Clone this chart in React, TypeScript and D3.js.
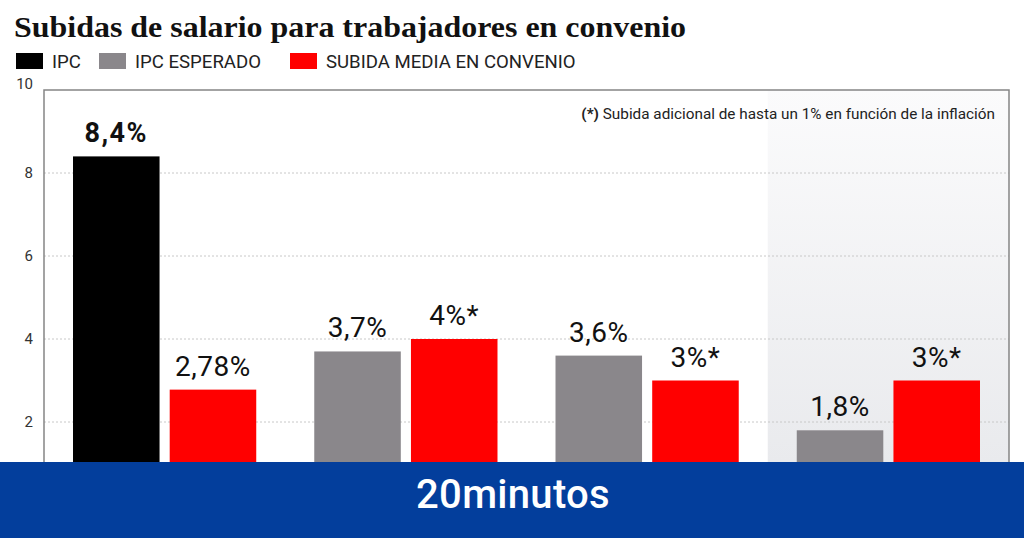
import React from "react";
import * as d3 from "d3";

// años del acuerdo y valores (%)
const years = ["2022", "2023", "2024", "2025"];
const ipc = [8.4, null, null, null];
const ipcEsperado = [null, 3.7, 3.6, 1.8];
const subidaMedia = [2.78, 4, 3, 3];
const conClausula = [false, true, true, true];
const yTicks = [2, 4, 6, 8, 10];

const legend = [
  { label: "IPC", color: "#000000" },
  { label: "IPC ESPERADO", color: "#8a878b" },
  { label: "SUBIDA MEDIA EN CONVENIO", color: "#ff0000" },
];
const legendX = [16, 99, 290];

const W = 1024;
const H = 538;
const plot = { left: 44, right: 1009, top: 90, bottom: 505 };
const bannerTop = 462;
const sans = "Roboto, 'Noto Sans', sans-serif";

const fmt = (v: number) => `${String(v).replace(".", ",")}%`;

export default function App() {
  const x0 = d3.scaleBand<string>().domain(years).range([plot.left, plot.right]);
  const x1 = d3
    .scaleBand<number>()
    .domain([0, 1])
    .range([0, x0.bandwidth()])
    .paddingInner(0.105)
    .paddingOuter(0.3);
  const y = d3.scaleLinear().domain([0, 10]).range([plot.bottom, plot.top]);

  // una barra por serie presente en cada año
  const bars = years.flatMap((yr, i) => {
    const out: { key: string; x: number; v: number; color: string; label: string; bold: boolean }[] = [];
    const first = ipc[i] ?? ipcEsperado[i];
    if (first != null) {
      const isIpc = ipc[i] != null;
      out.push({
        key: `${yr}-a`,
        x: x0(yr)! + x1(0)!,
        v: first,
        color: isIpc ? legend[0].color : legend[1].color,
        label: fmt(first),
        bold: isIpc,
      });
    }
    out.push({
      key: `${yr}-b`,
      x: x0(yr)! + x1(1)!,
      v: subidaMedia[i],
      color: legend[2].color,
      label: fmt(subidaMedia[i]) + (conClausula[i] ? "*" : ""),
      bold: false,
    });
    return out;
  });

  const lastX = x0(years[years.length - 1])!;

  return (
    <svg
      width={W}
      height={H}
      viewBox={`0 0 ${W} ${H}`}
      style={{ position: "absolute", left: 0, top: 0, background: "#fff" }}
    >
      <defs>
        <linearGradient id="sombra" x1="0" y1="0" x2="0" y2="1">
          <stop offset="0" stopColor="#fbfbfc" />
          <stop offset="1" stopColor="#e9eaed" />
        </linearGradient>
      </defs>

      <text
        x={14}
        y={37}
        fontFamily="'Liberation Serif', 'DejaVu Serif', serif"
        fontWeight="bold"
        fontSize={29}
        textLength={672}
        lengthAdjust="spacingAndGlyphs"
        fill="#111"
      >
        Subidas de salario para trabajadores en convenio
      </text>

      {legend.map((d, i) => (
        <g key={d.label} transform={`translate(${legendX[i]},53)`}>
          <rect width={27} height={16} fill={d.color} />
          <text x={36} y={15} fontFamily={sans} fontSize={18.6} fill="#222">
            {d.label}
          </text>
        </g>
      ))}

      {/* año con previsión, sombreado */}
      <rect
        x={lastX}
        y={plot.top}
        width={plot.right - lastX}
        height={bannerTop - plot.top}
        fill="url(#sombra)"
      />

      {yTicks.map((t) => (
        <g key={t}>
          {t < 10 && (
            <line
              x1={plot.left}
              x2={plot.right}
              y1={y(t)}
              y2={y(t)}
              stroke="#c8c8c8"
              strokeDasharray="2,2"
            />
          )}
          <text
            x={33}
            y={y(t)}
            dy={t === 10 ? "-0.1em" : "0.3em"}
            textAnchor="end"
            fontFamily={sans}
            fontSize={15}
            fill="#333"
          >
            {t}
          </text>
        </g>
      ))}

      {bars.map((b) => (
        <g key={b.key}>
          <rect x={b.x} y={y(b.v)} width={x1.bandwidth()} height={plot.bottom - y(b.v)} fill={b.color} />
          <text
            x={b.x + x1.bandwidth() / 2}
            y={y(b.v) - 14}
            textAnchor="middle"
            fontFamily={sans}
            fontWeight={b.bold ? "bold" : "normal"}
            fontSize={b.bold ? 27 : 28}
            letterSpacing={b.bold ? 1.5 : 0.5}
            fill="#111"
          >
            {b.label}
          </text>
        </g>
      ))}

      {/* marco del gráfico */}
      <path
        d={`M${plot.left},${bannerTop}V${plot.top}H${plot.right}V${bannerTop}`}
        fill="none"
        stroke="#858585"
        strokeWidth={1.5}
      />

      <text
        x={995}
        y={119}
        textAnchor="end"
        fontFamily={sans}
        fontSize={15.3}
        fill="#222"
      >
        <tspan fontWeight="bold">(*)</tspan> Subida adicional de hasta un 1% en función de la inflación
      </text>

      <rect x={0} y={bannerTop} width={W} height={H - bannerTop} fill="#033e9c" />
      <text
        x={513}
        y={508}
        textAnchor="middle"
        fontFamily={sans}
        fontWeight={500}
        fontSize={40}
        letterSpacing={0.3}
        fill="#fff"
      >
        20minutos
      </text>
    </svg>
  );
}
